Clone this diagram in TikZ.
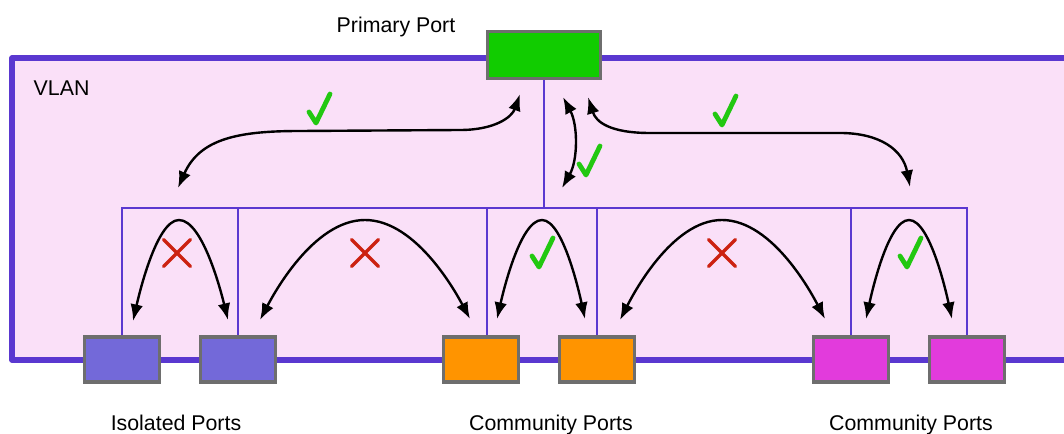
\documentclass[tikz,border=0pt]{standalone}
\usepackage{fontspec}
\setmainfont{Liberation Sans}
\usetikzlibrary{arrows.meta,calc}

\definecolor{vlanpink}{RGB}{250,224,248}
\definecolor{vlanline}{RGB}{90,56,208}
\definecolor{portgray}{RGB}{110,110,110}
\definecolor{primgreen}{RGB}{17,204,0}
\definecolor{isoblue}{RGB}{115,105,217}
\definecolor{comorange}{RGB}{255,148,0}
\definecolor{commagenta}{RGB}{226,59,220}
\definecolor{okgreen}{RGB}{34,200,17}
\definecolor{nored}{RGB}{204,34,17}

% allowed / blocked marks
\tikzset{
  okmark/.pic={\draw[okgreen, line width=3.6pt, line cap=round, line join=round] (-11,4) -- (-4,15) -- (10,-14);},
  nomark/.pic={\draw[nored, line width=2.4pt, line cap=round] (-13.5,-13.5) -- (13.5,13.5) (-13.5,13.5) -- (13.5,-13.5);}
}

\begin{document}
\begin{tikzpicture}[x=0.75pt, y=-0.75pt, font=\fontsize{16}{19}\selectfont]
\tikzstyle{port}=[rectangle, draw=portgray, line width=2.7pt, minimum width=56pt, minimum height=34pt, inner sep=0pt, node distance=87pt]
\tikzstyle{iso}=[port, fill=isoblue]
\tikzstyle{com}=[port, fill=comorange]
\tikzstyle{mag}=[port, fill=commagenta]
\tikzstyle{bus}=[vlanline, line width=1.4pt]
\tikzstyle{connect}=[{Latex[length=12.5pt,width=9.5pt]}-{Latex[length=12.5pt,width=9.5pt]}, line width=1.8pt]

  \useasboundingbox (0,0) rectangle (1064,434);

  % VLAN area, open to the right
  \draw[vlanline, fill=vlanpink, line width=3.8pt, line join=round] (1085,58) -- (12,58) -- (12,360) -- (1085,360);
  \node[anchor=base west] (vlan) at (29,96) {VLAN};

  \node[port, fill=primgreen, minimum width=84.5pt, minimum height=35pt] (prim) at (544,55) {};
  \node[anchor=base] (primlbl) at (396,33) {Primary Port};

  \node[iso] (iso1) at (122,359.5) {};
  \node[iso] (iso2) [right of=iso1] {};
  \node[com] (com1) at (481,359.5) {};
  \node[com] (com2) [right of=com1] {};
  \node[mag] (com3) at (851,359.5) {};
  \node[mag] (com4) [right of=com3] {};

  \node[anchor=base] (isolbl) at (176,431) {Isolated Ports};
  \node[anchor=base] (comlbl1) at (551,431) {Community Ports};
  \node[anchor=base] (comlbl2) at (911,431) {Community Ports};

  % switch bus
  \coordinate (tap) at (544,208);
  \draw[bus] (prim.south) -- (tap);
  \draw[bus] (iso1.north) |- (tap) -| (com4.north);
  \draw[bus] (iso2.north) -- (iso2.north |- tap);
  \draw[bus] ([xshift=4.5pt]com1.north) -- ([xshift=4.5pt]com1.north |- tap);
  \draw[bus] (com2.north) -- (com2.north |- tap);
  \draw[bus] (com3.north) -- (com3.north |- tap);

  % primary <-> everything
  \coordinate (lefttip) at (178,188);
  \coordinate (midtip) at (562,188);
  \coordinate (righttip) at (910,187);
  \draw[connect] ($(prim.south)+(-24,14)$) .. controls (512,117) and (495,130) .. (460,130)
        -- (300,131) .. controls (240,131) and (200,138) .. (lefttip);
  \draw[connect] ($(prim.south)+(19,17)$) .. controls (578,125) and (578,160) .. (midtip);
  \draw[connect] ($(prim.south)+(44,17)$) .. controls (596,122) and (610,133) .. (650,133)
        -- (840,133) .. controls (880,133) and (903,150) .. (righttip);

  % port <-> port
  \draw[connect] ($(iso1.north)+(11,-14)$) parabola bend (179,220) ($(iso2.north)+(-10,-15)$);
  \draw[connect] ($(iso2.north)+(22,-15)$) parabola bend (365,220) ($(com1.north)+(-11,-16)$);
  \draw[connect] ($(com1.north)+(16,-16)$) parabola bend (542,220) ($(com2.north)+(-12,-16)$);
  \draw[connect] ($(com2.north)+(23,-15)$) parabola bend (722,220) ($(com3.north)+(-26,-16)$);
  \draw[connect] ($(com3.north)+(15,-16)$) parabola bend (909,220) ($(com4.north)+(-15,-16)$);

  \pic at (320,108) {okmark};
  \pic at (726,110) {okmark};
  \pic at (590,160) {okmark};
  \pic at (543,252) {okmark};
  \pic at (911,252) {okmark};
  \pic at (177,253) {nomark};
  \pic at (365,253) {nomark};
  \pic at (722,253) {nomark};

\end{tikzpicture}
\end{document}
